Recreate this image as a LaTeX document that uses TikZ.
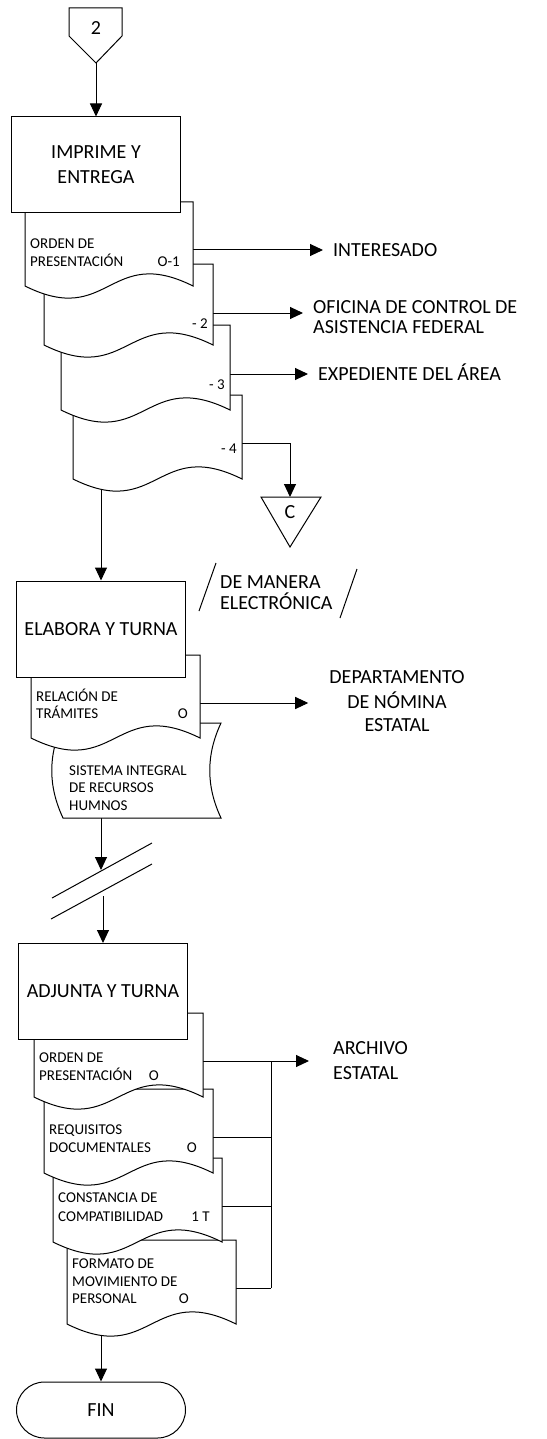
\documentclass[tikz,border=0pt]{standalone}
\usepackage{fontspec}
\setmainfont{Carlito}
\usetikzlibrary{arrows.meta,backgrounds}
\newcommand\fsbig{\fontsize{20}{25}\selectfont}
\newcommand\fssmall{\fontsize{15}{18}\selectfont}
\newcommand\mydoc[4]{\draw[docsh] (#1,#3) -- (#2,#3) -- (#2,#4) .. controls ({(#1+#2)/2},{#4-42}) and ({(#1+#2)/2},{#4+42}) .. (#1,#4) -- cycle;}
\begin{document}
\begin{tikzpicture}[x=1pt,y=-1pt,
 ln/.style={line width=1pt},
 arr/.style={ln,-{Triangle[length=13pt,width=12pt]}},
 docsh/.style={draw,fill=white,line width=1pt},
 proc/.style={draw,fill=white,line width=1pt,minimum width=169pt,minimum height=96pt,inner sep=0pt,align=center,font=\fsbig},
 big/.style={inner sep=0pt,font=\fsbig,anchor=base west},
 bigc/.style={inner sep=0pt,font=\fsbig,anchor=base},
 sm/.style={inner sep=0pt,font=\fssmall,anchor=base west},
 sme/.style={inner sep=0pt,font=\fssmall,anchor=base east},
]
\useasboundingbox (0,0) rectangle (546,1439);

% ---------- group 1 ----------
\draw[ln,fill=white] (69,8) -- (122,8) -- (122,36) -- (96,63) -- (69,36) -- cycle;
\node[inner sep=0pt,font=\fsbig] (n2) at (96,28) {2};
\coordinate (c2) at (96,63);

\mydoc{73}{242}{395}{479}
\mydoc{61}{230}{325}{410}
\mydoc{44}{213}{264}{345}
\mydoc{25}{193}{202}{286}
\node[proc] (b1) at (96,165) {IMPRIME Y\\ENTREGA};

\coordinate (d1r) at (193,250);
\coordinate (d2r) at (213,313);
\coordinate (d3r) at (230,374);
\coordinate (d4r) at (242,443);
\coordinate (d4b) at (101,480);

\node[sm] (tOrd1) at (30,248) {ORDEN DE};
\node[sm] (tOrd2) at (30,266) {PRESENTACIÓN};
\node[sme] (tOrd3) at (180,266) {O-1};
\node[sme] (t2) at (208,328) {- 2};
\node[sme] (t3) at (225,389) {- 3};
\node[sme] (t4) at (237,453) {- 4};

\node[big] (tI) at (333,256) {INTERESADO};
\node[big] (tO1) at (313,313) {OFICINA DE CONTROL DE};
\node[big] (tO2) at (313,333) {ASISTENCIA FEDERAL};
\node[big] (tE) at (318,380) {EXPEDIENTE DEL ÁREA};

\draw[ln,fill=white] (261,497) -- (321,497) -- (290,547) -- cycle;
\node[inner sep=0pt,font=\fsbig] (nc) at (290,512) {C};
\coordinate (ctop) at (290,497);

% ---------- group 2 ----------
\draw[ln] (199,611) -- (216,563);
\draw[ln] (340,618) -- (357,569);
\node[big] (tM1) at (220,588) {DE MANERA};
\node[big] (tM2) at (220,609) {ELECTRÓNICA};

\draw[docsh] (63,723) -- (221,723) .. controls (206,755) and (206,786) .. (221,818) -- (63,818) .. controls (48,786) and (48,755) .. (63,723) -- cycle;
\mydoc{31}{200}{655}{738}
\node[proc] (b2) at (101,629) {ELABORA Y TURNA};

\coordinate (rr) at (200,703);
\coordinate (sdb) at (101,818);

\node[sm] (tR1) at (36,701) {RELACIÓN DE};
\node[sm] (tR2) at (36,718) {TRÁMITES};
\node[sme] (tR3) at (188,718) {O};
\node[sm] (tS1) at (69,775) {SISTEMA INTEGRAL};
\node[sm] (tS2) at (69,792) {DE RECURSOS};
\node[sm] (tS3) at (69,810) {HUMNOS};

\node[bigc] (tD1) at (397,683) {DEPARTAMENTO};
\node[bigc] (tD2) at (397,708) {DE NÓMINA};
\node[bigc] (tD3) at (397,731) {ESTATAL};

\draw[ln] (52,898) -- (152,843);
\draw[ln] (51,919) -- (152,864);
\coordinate (brkA) at (101,870);
\coordinate (brkB) at (103,896);

% ---------- group 3 ----------
\mydoc{67}{236}{1240}{1324}
\mydoc{53}{222}{1158}{1242}
\mydoc{44}{213}{1089}{1173}
\mydoc{34}{203}{1013}{1097}
\node[proc] (b3) at (103,991.5) {ADJUNTA Y TURNA};
\node[proc,minimum height=56pt,rounded corners=28pt] (fin) at (101,1410) {FIN};

\coordinate (oa) at (203,1061);
\coordinate (ob) at (213,1137);
\coordinate (oc) at (222,1206);
\coordinate (od) at (236,1288);
\coordinate (bus1) at (271,1061);
\coordinate (bus2) at (271,1288);
\coordinate (db) at (101,1325);

\node[sm] (tA1) at (39,1062) {ORDEN DE};
\node[sm] (tA2) at (39,1080) {PRESENTACIÓN};
\node[sme] (tA3) at (159,1080) {O};
\node[sm] (tB1) at (49,1134) {REQUISITOS};
\node[sm] (tB2) at (49,1152) {DOCUMENTALES};
\node[sme] (tB3) at (197,1152) {O};
\node[sm] (tC1) at (58,1202) {CONSTANCIA DE};
\node[sm] (tC2) at (58,1221) {COMPATIBILIDAD};
\node[sme] (tC3) at (210,1221) {1 T};
\node[sm] (tF1) at (72,1268) {FORMATO DE};
\node[sm] (tF2) at (72,1286) {MOVIMIENTO DE};
\node[sm] (tF3) at (72,1303) {PERSONAL};
\node[sme] (tF4) at (189,1303) {O};

\node[big] (tAr1) at (333,1054) {ARCHIVO};
\node[big] (tAr2) at (333,1079) {ESTATAL};

% ---------- connectors ----------
\begin{pgfonlayer}{background}
\draw[arr] (c2) -- (b1.north);
\draw[arr,shorten >=10pt] (d1r) -- (d1r -| tI.west);
\draw[arr,shorten >=10pt] (d2r) -- (d2r -| tO1.west);
\draw[arr,shorten >=10pt] (d3r) -- (d3r -| tE.west);
\draw[arr] (d4r) -| (ctop);
\draw[arr] (d4b) -- (b2.north);
\draw[arr,shorten >=21pt] (rr) -- (rr -| tD1.west);
\draw[arr] (sdb) -- (brkA);
\draw[arr] (brkB) -- (b3.north);
\draw[arr,shorten >=24pt] (oa) -- (oa -| tAr1.west);
\draw[ln] (bus1) -- (bus2);
\draw[ln] (ob) -- (ob -| bus1);
\draw[ln] (oc) -- (oc -| bus1);
\draw[ln] (od) -- (bus2);
\draw[arr] (db) -- (fin.north);
\end{pgfonlayer}
\end{tikzpicture}
\end{document}
